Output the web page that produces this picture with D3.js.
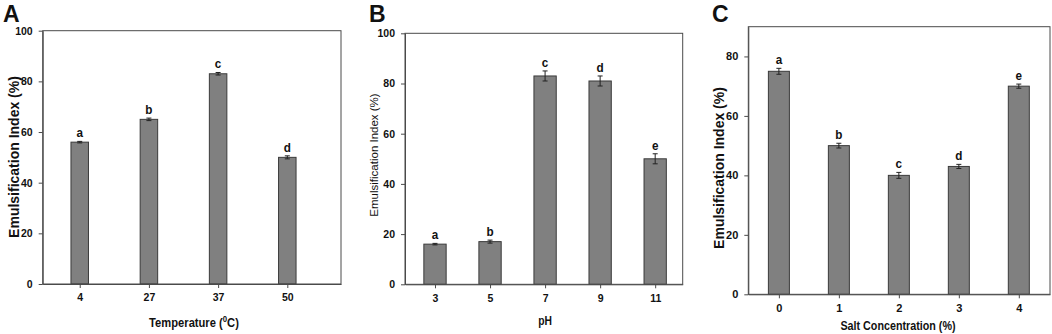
<!DOCTYPE html>
<html>
<head>
<meta charset="utf-8">
<script src="https://cdn.jsdelivr.net/npm/d3@7"></script>
<style>
  body { margin: 0; background: #fff; }
  svg text { font-family: "Liberation Sans", Arial, sans-serif; }
</style>
</head>
<body>
<div id="chart"></div>
<script>
// panel A - temperature
const tempLabels = ['4', '27', '37', '50'];
const tempValues = [56, 65, 83, 50];
const tempErrors = [0.3, 0.5, 0.5, 0.6];
const tempLetters = ['a', 'b', 'c', 'd'];

// panel B - pH
const phLabels = ['3', '5', '7', '9', '11'];
const phValues = [16, 17, 83, 81, 50];
const phErrors = [0.3, 0.6, 2, 2, 2];
const phLetters = ['a', 'b', 'c', 'd', 'e'];

// panel C - salt
const saltLabels = ['0', '1', '2', '3', '4'];
const saltValues = [75, 50, 40, 43, 70];
const saltErrors = [1, 0.8, 1, 0.7, 0.7];
const saltLetters = ['a', 'b', 'c', 'd', 'e'];

const svg = d3.select('#chart').append('svg')
    .attr('width', 1052)
    .attr('height', 334);

const panels = [
    {
        tag: 'A', tagX: 3, labels: tempLabels, values: tempValues, errors: tempErrors, letters: tempLetters,
        left: 42.7, right: 341, top: 30.7, bottom: 284, yMax: 100, yTicks: [0, 20, 40, 60, 80, 100],
        xDomain: [-0.535, 3.776], barW: 17.5,
        yTitle: { x: 15, y: 157, size: 14, weight: 'bold' },
        xTitle: { x: 194, y: 327, size: 13, text: 'Temperature (', sup: '0', after: 'C)' },
        tickSize: 10.5
    },
    {
        tag: 'B', tagX: 369, labels: phLabels, values: phValues, errors: phErrors, letters: phLetters,
        left: 405, right: 682.7, top: 33.3, bottom: 284.3, yMax: 100, yTicks: [0, 20, 40, 60, 80, 100],
        xDomain: [-0.545, 4.5], barW: 22.3,
        yTitle: { x: 375, y: 155, size: 11.5, weight: 'normal' },
        xTitle: { x: 545, y: 325, size: 12, text: 'pH' },
        tickSize: 10.5
    },
    {
        tag: 'C', tagX: 712, labels: saltLabels, values: saltValues, errors: saltErrors, letters: saltLetters,
        left: 748.3, right: 1050, top: 26.7, bottom: 294.3, yMax: 90, yTicks: [0, 20, 40, 60, 80],
        xDomain: [-0.51, 4.52], barW: 21,
        yTitle: { x: 720, y: 168, size: 14, weight: 'bold' },
        xTitle: { x: 898, y: 330, size: 12.5, text: 'Salt Concentration (%)' },
        tickSize: 11
    }
];

panels.forEach(p => {
    const g = svg.append('g');
    const x = d3.scaleLinear().domain(p.xDomain).range([p.left, p.right]);
    const y = d3.scaleLinear().domain([0, p.yMax]).range([p.bottom, p.top]);
    const idx = p.values.map((v, i) => i);

    // panel letter
    g.append('text')
        .attr('x', p.tagX)
        .attr('y', 22)
        .attr('font-size', 23)
        .attr('font-weight', 'bold')
        .attr('fill', '#111')
        .text(p.tag);

    // bars
    g.selectAll('rect.bar').data(idx).join('rect')
        .attr('class', 'bar')
        .attr('x', i => x(i) - p.barW / 2)
        .attr('y', i => y(p.values[i]))
        .attr('width', p.barW)
        .attr('height', i => y(0) - y(p.values[i]))
        .attr('fill', '#808080')
        .attr('stroke', '#3a3a3a')
        .attr('stroke-width', 1);

    // error bars
    const eb = g.selectAll('g.err').data(idx).join('g').attr('class', 'err')
        .attr('stroke', '#222').attr('stroke-width', 1);
    eb.append('line')
        .attr('x1', i => x(i)).attr('x2', i => x(i))
        .attr('y1', i => y(p.values[i] - p.errors[i]))
        .attr('y2', i => y(p.values[i] + p.errors[i]));
    eb.append('line')
        .attr('x1', i => x(i) - 2.5).attr('x2', i => x(i) + 2.5)
        .attr('y1', i => y(p.values[i] + p.errors[i]))
        .attr('y2', i => y(p.values[i] + p.errors[i]));
    eb.append('line')
        .attr('x1', i => x(i) - 2.5).attr('x2', i => x(i) + 2.5)
        .attr('y1', i => y(p.values[i] - p.errors[i]))
        .attr('y2', i => y(p.values[i] - p.errors[i]));

    // significance letters
    g.selectAll('text.sig').data(idx).join('text')
        .attr('class', 'sig')
        .attr('transform', i => `translate(${x(i)},${y(p.values[i] + p.errors[i]) - 4}) scale(0.9,1)`)
        .attr('text-anchor', 'middle')
        .attr('font-size', 13)
        .attr('font-weight', 'bold')
        .attr('fill', '#111')
        .text(i => p.letters[i]);

    // frame
    g.append('rect')
        .attr('x', p.left).attr('y', p.top)
        .attr('width', p.right - p.left).attr('height', p.bottom - p.top)
        .attr('fill', 'none')
        .attr('stroke', '#4a4a4a')
        .attr('stroke-width', 1);

    // axes
    const yAxis = g.append('g')
        .attr('transform', `translate(${p.left},0)`)
        .call(d3.axisLeft(y).tickValues(p.yTicks).tickSize(4).tickSizeOuter(0).tickPadding(6));
    const xAxis = g.append('g')
        .attr('transform', `translate(0,${p.bottom})`)
        .call(d3.axisBottom(x).tickValues(idx).tickFormat(i => p.labels[i]).tickSize(4).tickSizeOuter(0).tickPadding(6));
    [yAxis, xAxis].forEach(a => {
        a.attr('font-family', null);
        a.select('.domain').attr('stroke', '#4a4a4a');
        a.selectAll('.tick line').attr('stroke', '#4a4a4a');
        a.selectAll('.tick text')
            .attr('font-size', p.tickSize)
            .attr('font-weight', 'bold')
            .attr('fill', '#111');
    });

    // y title
    g.append('text')
        .attr('transform', `translate(${p.yTitle.x},${p.yTitle.y}) rotate(-90)`)
        .attr('text-anchor', 'middle')
        .attr('dominant-baseline', 'middle')
        .attr('font-size', p.yTitle.size)
        .attr('font-weight', p.yTitle.weight)
        .attr('fill', '#111')
        .text('Emulsification Index (%)');

    // x title, slightly condensed like the original
    const xt = g.append('text')
        .attr('transform', `translate(${p.xTitle.x},${p.xTitle.y}) scale(0.86,1)`)
        .attr('text-anchor', 'middle')
        .attr('font-size', p.xTitle.size)
        .attr('font-weight', 'bold')
        .attr('fill', '#111');
    if (p.xTitle.sup) {
        xt.append('tspan').text(p.xTitle.text);
        xt.append('tspan').attr('dy', -5).attr('font-size', p.xTitle.size * 0.7).text(p.xTitle.sup);
        xt.append('tspan').attr('dy', 5).text(p.xTitle.after);
    } else {
        xt.text(p.xTitle.text);
    }
});
</script>
</body>
</html>
